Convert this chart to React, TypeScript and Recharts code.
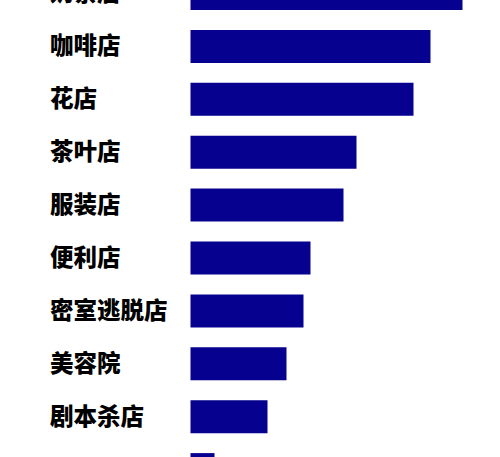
import React from "react";
import { BarChart, Bar, XAxis, YAxis } from "recharts";

// categories top to bottom (first and last are cut off in the reference)
const shops = ["奶茶店", "咖啡店", "花店", "茶叶店", "服装店", "便利店", "密室逃脱店", "美容院", "剧本杀店", "理发店"];
const counts = [272, 240, 223, 166, 153, 120, 113, 96, 77, 24];

const data = shops.map((name, i) => ({ name, value: counts[i] }));

const ShopTick = (props: any) => {
  const { y, payload } = props;
  return (
    <text
      x={50}
      y={y}
      dy={-2}
      textAnchor="start"
      dominantBaseline="central"
      fontFamily="'Noto Sans CJK SC', 'Noto Sans', sans-serif"
      fontWeight={900}
      fontSize={23.5}
      fill="#000"
    >
      {payload.value}
    </text>
  );
};

export default function App() {
  return (
    <div style={{ position: "fixed", left: 0, top: -32.85, background: "#fff" }}>
      <BarChart
        width={500}
        height={529}
        data={data}
        layout="vertical"
        margin={{ top: 0, right: 9.5, bottom: 0, left: 0 }}
      >
        <XAxis type="number" domain={[0, 300]} hide />
        <YAxis
          type="category"
          dataKey="name"
          width={190.5}
          axisLine={false}
          tickLine={false}
          interval={0}
          tick={<ShopTick />}
        />
        <Bar dataKey="value" fill="#06028f" barSize={33} isAnimationActive={false} />
      </BarChart>
    </div>
  );
}
